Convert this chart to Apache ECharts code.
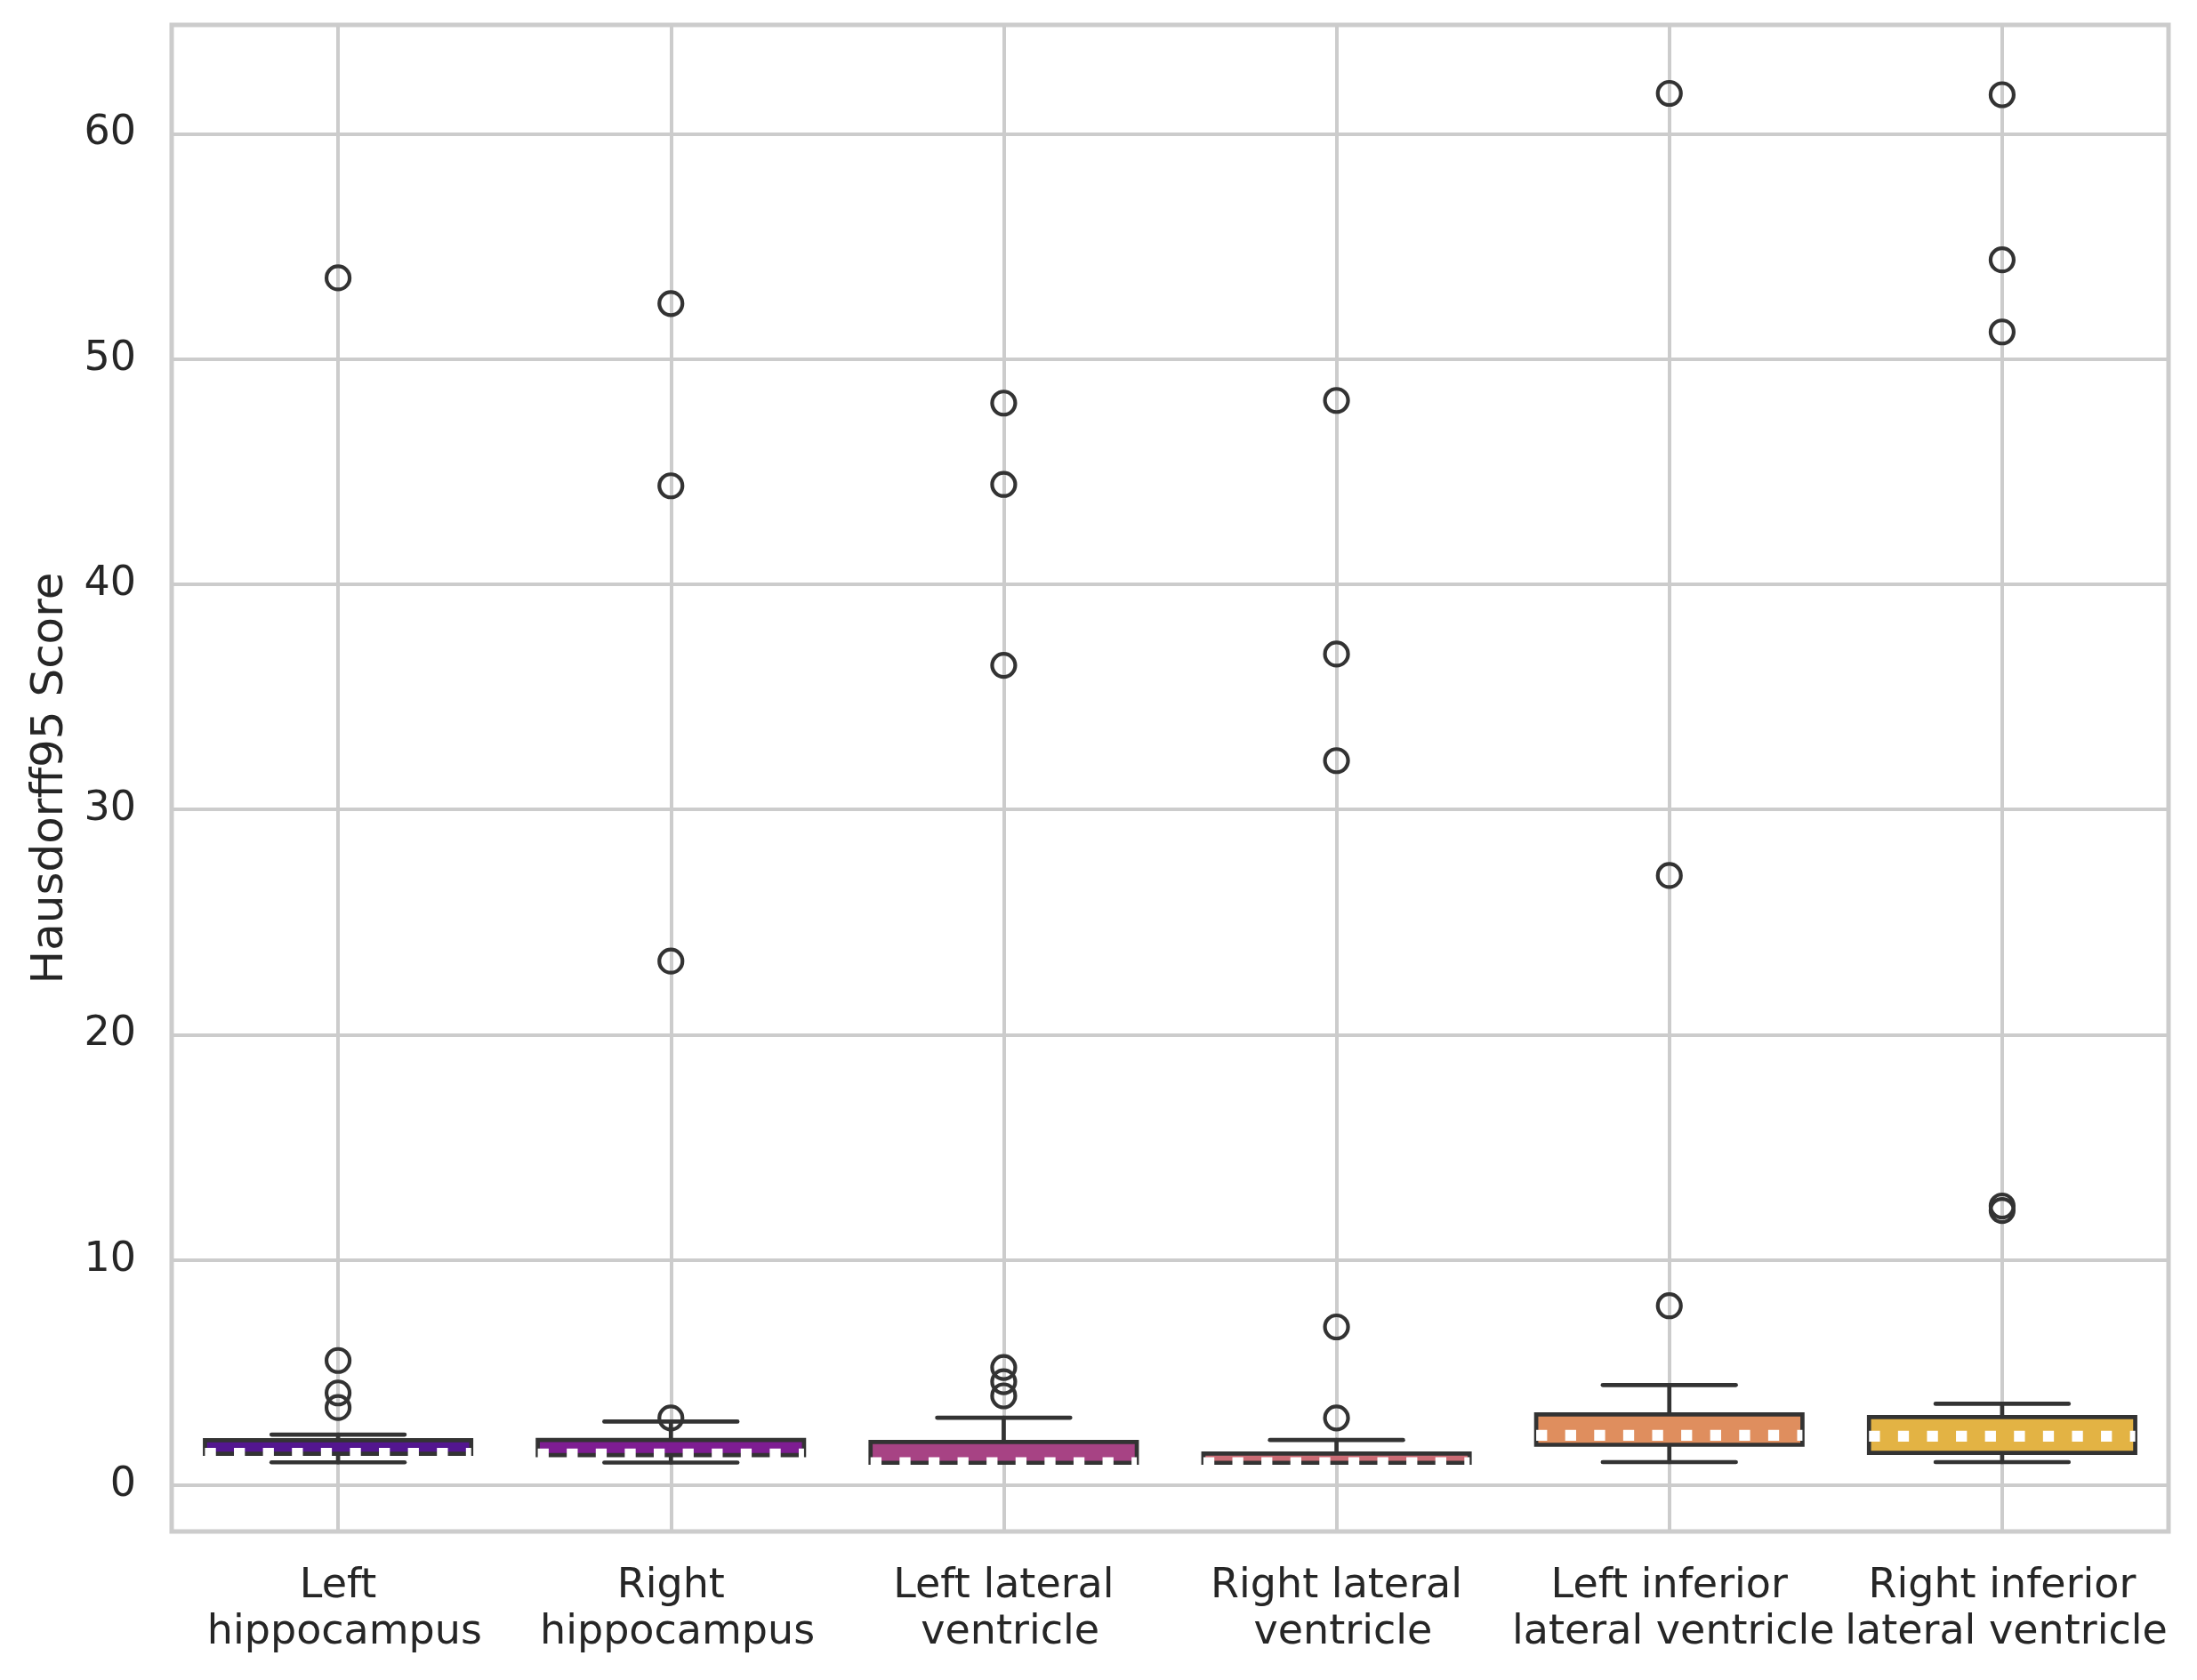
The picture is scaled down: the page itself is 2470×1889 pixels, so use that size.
<!DOCTYPE html>
<html><head><meta charset="utf-8">
<script src="https://cdn.jsdelivr.net/npm/echarts@6/dist/echarts.min.js"></script>
<style>html,body{margin:0;padding:0;background:#fff}#chart{width:2470px;height:1889px}</style>
</head><body><div id="chart"></div>
<script>
const categories = ['Left\n hippocampus', 'Right\n hippocampus', 'Left lateral\n ventricle', 'Right lateral\n ventricle', 'Left inferior\n\u2009lateral ventricle', 'Right inferior\n\u2009lateral ventricle'];
const whiskerLow  = [1.02, 1.01, 1.00, 1.00, 1.03, 1.03];
const q1          = [1.40, 1.34, 1.00, 1.00, 1.80, 1.44];
const median      = [1.42, 1.39, 1.00, 1.00, 2.22, 2.18];
const q3          = [2.00, 2.01, 1.92, 1.41, 3.15, 3.03];
const whiskerHigh = [2.25, 2.83, 3.00, 2.01, 4.45, 3.62];
const outliersLH   = [3.45, 4.10, 5.54, 53.6];
const outliersRH   = [2.99, 23.27, 44.37, 52.46];
const outliersLLV  = [3.97, 4.60, 5.23, 36.4, 44.43, 48.04];
const outliersRLV  = [2.99, 7.03, 32.17, 36.9, 48.16];
const outliersLILV = [7.97, 27.07, 61.79];
const outliersRILV = [12.2, 12.4, 51.2, 54.4, 61.73];
const boxColors = ['#53168F', '#7E1D92', '#A74384', '#CB6C75', '#DF8E5E', '#E3B344'];
const yTicks = [0, 10, 20, 30, 40, 50, 60];
const xTicks = [0, 1, 2, 3, 4, 5];

const outlierLists = [outliersLH, outliersRH, outliersLLV, outliersRLV, outliersLILV, outliersRILV];
const boxData = categories.map((c, i) => [i, whiskerLow[i], q1[i], median[i], q3[i], whiskerHigh[i]]);
const outlierData = [];
outlierLists.forEach((arr, i) => arr.forEach(v => outlierData.push([i, v])));

const textColor = '#262626';
const font = 'DejaVu Sans';
const chart = echarts.init(document.getElementById('chart'), null, {renderer: 'canvas'});
chart.setOption({
  animation: false,
  backgroundColor: '#fff',
  grid: {left: 193, right: 32, top: 28, bottom: 167, show: true, borderColor: '#cccccc', borderWidth: 5, containLabel: false},
  xAxis: {
    type: 'value', min: -0.5, max: 5.5,
    axisLine: {show: false},
    axisTick: {show: false, customValues: xTicks},
    splitLine: {show: true, lineStyle: {color: '#cccccc', width: 4}},
    axisLabel: {
      customValues: xTicks,
      formatter: v => categories[Math.round(v)],
      hideOverlap: false, showMinLabel: true, showMaxLabel: true,
      fontFamily: font, fontSize: 46, lineHeight: 52, color: textColor, margin: 36, align: 'center'
    }
  },
  yAxis: {
    type: 'value', min: -2.05, max: 64.83,
    name: 'Hausdorff95 Score', nameLocation: 'middle', nameRotate: 90, nameGap: 111,
    nameTextStyle: {fontFamily: font, fontSize: 50, color: textColor},
    axisLine: {show: false},
    axisTick: {show: false, customValues: yTicks},
    splitLine: {show: true, lineStyle: {color: '#cccccc', width: 4}},
    axisLabel: {customValues: yTicks, fontFamily: font, fontSize: 46, color: textColor, margin: 40}
  },
  series: [
    {
      type: 'custom',
      data: boxData,
      encode: {x: 0, y: [1, 2, 3, 4, 5]},
      z: 3,
      renderItem: function (params, api) {
        const x = api.value(0);
        const half = api.size([0.8, 0])[0] / 2;
        const capHalf = half / 2;
        const pl = api.coord([x, api.value(1)]);
        const p1 = api.coord([x, api.value(2)]);
        const pm = api.coord([x, api.value(3)]);
        const p3 = api.coord([x, api.value(4)]);
        const ph = api.coord([x, api.value(5)]);
        const cx = p1[0];
        const ls = {stroke: '#333333', lineWidth: 4.7, lineCap: 'round'};
        return {type: 'group', children: [
          {type: 'line', shape: {x1: cx, y1: p3[1], x2: cx, y2: ph[1]}, style: ls},
          {type: 'line', shape: {x1: cx, y1: p1[1], x2: cx, y2: pl[1]}, style: ls},
          {type: 'line', shape: {x1: cx - capHalf, y1: ph[1], x2: cx + capHalf, y2: ph[1]}, style: ls},
          {type: 'line', shape: {x1: cx - capHalf, y1: pl[1], x2: cx + capHalf, y2: pl[1]}, style: ls},
          {type: 'rect', shape: {x: cx - half, y: p3[1], width: 2 * half, height: p1[1] - p3[1]},
           style: {fill: boxColors[params.dataIndex], stroke: '#333333', lineWidth: 4.7, lineJoin: 'miter'}},
          {type: 'line', shape: {x1: cx - half, y1: pm[1], x2: cx + half, y2: pm[1]},
           style: {stroke: '#ffffff', lineWidth: 12.3, lineDash: [12.3, 20.3], lineCap: 'butt'}}
        ]};
      }
    },
    {
      type: 'scatter',
      data: outlierData,
      z: 4,
      symbol: 'circle',
      symbolSize: 26,
      itemStyle: {color: 'rgba(0,0,0,0)', borderColor: '#333333', borderWidth: 4.2, opacity: 1}
    }
  ]
});
</script></body></html>
